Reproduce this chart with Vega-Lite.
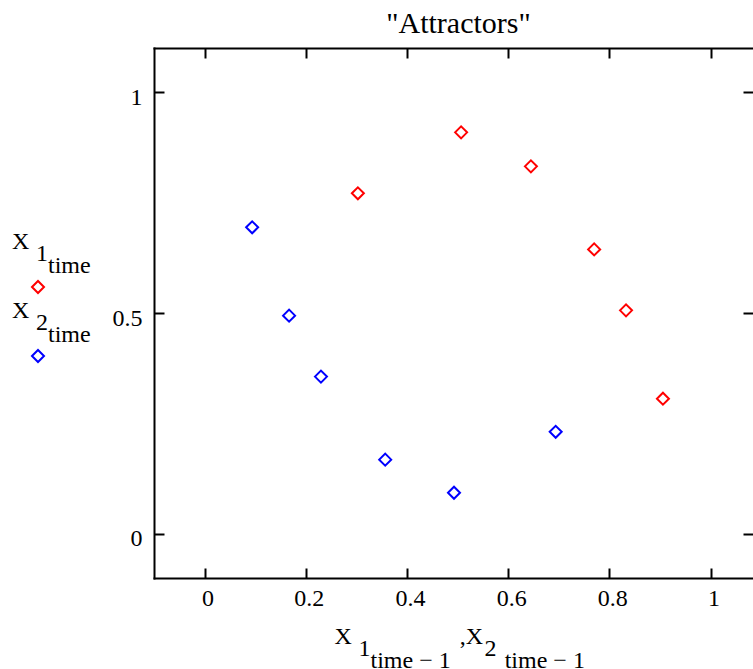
{
  "$schema": "https://vega.github.io/schema/vega-lite/v6.json",
  "width": 599,
  "height": 530,
  "autosize": {"type": "none"},
  "padding": {"left": 154, "top": 48, "right": 0, "bottom": 91},
  "background": "white",
  "config": {"view": {"stroke": null}, "font": "Liberation Serif", "style": {"guide-label": {"lineHeight": 12, "dy": -33}}},
  "title": {
    "text": "\"Attractors\"",
    "font": "Liberation Serif",
    "fontSize": 30,
    "fontWeight": "normal",
    "color": "black",
    "anchor": "middle",
    "baseline": "alphabetic",
    "offset": -16,
    "dx": 5
  },
  "data": {
    "values": [
      {"x": 0.303, "y": 0.771, "series": "X1"},
      {"x": 0.507, "y": 0.909, "series": "X1"},
      {"x": 0.645, "y": 0.832, "series": "X1"},
      {"x": 0.770, "y": 0.644, "series": "X1"},
      {"x": 0.833, "y": 0.506, "series": "X1"},
      {"x": 0.906, "y": 0.306, "series": "X1"},
      {"x": 0.094, "y": 0.694, "series": "X2"},
      {"x": 0.167, "y": 0.494, "series": "X2"},
      {"x": 0.230, "y": 0.356, "series": "X2"},
      {"x": 0.357, "y": 0.168, "series": "X2"},
      {"x": 0.493, "y": 0.093, "series": "X2"},
      {"x": 0.694, "y": 0.231, "series": "X2"}
    ]
  },
  "layer": [
    {
      "mark": {"type": "point", "shape": "diamond", "filled": false, "size": 144, "strokeWidth": 2, "opacity": 1},
      "encoding": {
        "x": {
          "field": "x", "type": "quantitative",
          "scale": {"domain": [-0.1, 1.084], "nice": false, "zero": false},
          "axis": {
            "orient": "bottom", "values": [0, 0.2, 0.4, 0.6, 0.8, 1], "format": "~g",
            "grid": false, "domain": true, "domainColor": "black", "domainWidth": 2, "domainCap": "square",
            "ticks": true, "tickSize": -10, "tickWidth": 2, "tickColor": "black",
            "labelFont": "Liberation Serif", "labelFontSize": 24, "labelColor": "black",
            "labelPadding": 70, "labelBaseline": "alphabetic", "labelOffset": 3,
            "labelFlush": false, "labelOverlap": false, "labelBound": false,
            "title": [
              "\u200bX\u00a0\u00a0\u00a0\u00a0\u00a0\u00a0\u00a0\u00a0\u00a0\u00a0\u00a0\u00a0\u00a0\u00a0\u00a0\u00a0\u00a0\u00a0,X",
              "\u200b\u00a0\u00a0\u00a0\u00a01\u00a0\u00a0\u00a0\u00a0\u00a0\u00a0\u00a0\u00a0\u00a0\u00a0\u00a0\u00a0\u00a0\u00a0\u00a0\u00a0\u00a0\u00a0\u00a02",
              "\u200b\u00a0\u00a0\u00a0\u00a0\u00a0\u00a0time \u2212 1\u00a0\u00a0\u00a0\u00a0\u00a0\u00a0\u00a0\u00a0\u00a0time \u2212 1"
            ],
            "titleFont": "Liberation Serif", "titleFontSize": 24, "titleFontWeight": "normal", "titleColor": "black",
            "titleAlign": "left", "titleX": 180, "titleY": 65, "titleBaseline": "alphabetic", "titleLineHeight": 12
          }
        },
        "y": {
          "field": "y", "type": "quantitative",
          "scale": {"domain": [-0.1, 1.1], "nice": false, "zero": false},
          "axis": {
            "orient": "left", "values": [0, 0.5, 1], "format": "~g",
            "grid": false, "domain": true, "domainColor": "black", "domainWidth": 2, "domainCap": "square",
            "ticks": true, "tickSize": -10, "tickWidth": 2, "tickColor": "black",
            "labelFont": "Liberation Serif", "labelFontSize": 24, "labelColor": "black",
            "labelPadding": 22, "labelBaseline": "alphabetic", "labelOffset": 45, "labelAlign": "right",
            "labelFlush": false, "labelOverlap": false, "labelBound": false,
            "title": null
          }
        },
        "color": {
          "field": "series", "type": "nominal",
          "scale": {"domain": ["X1", "X2"], "range": ["#ff0000", "#0000ff"]},
          "legend": {
            "orient": "none", "legendX": -128, "legendY": 227, "title": null, "direction": "vertical",
            "symbolSize": 144, "symbolStrokeWidth": 2, "symbolType": "diamond",
            "labelFont": "Liberation Serif", "labelFontSize": 24, "labelColor": "black",
            "labelBaseline": "bottom", "labelOffset": -38, "labelLimit": 0, "rowPadding": 2,
            "labelExpr": "datum.label == 'X1' ? ['\u200bX', '\u200b\u00a0\u00a0\u00a0\u00a01', '\u200b\u00a0\u00a0\u00a0\u00a0\u00a0\u00a0time'] : ['\u200bX', '\u200b\u00a0\u00a0\u00a0\u00a02', '\u200b\u00a0\u00a0\u00a0\u00a0\u00a0\u00a0time']"
          }
        }
      }
    },
    {
      "mark": {"type": "point", "opacity": 0},
      "encoding": {
        "x": {
          "field": "x", "type": "quantitative",
          "scale": {"domain": [-0.1, 1.084], "nice": false, "zero": false},
          "axis": {
            "orient": "top", "values": [0, 0.2, 0.4, 0.6, 0.8, 1], "labels": false,
            "grid": false, "domain": true, "domainColor": "black", "domainWidth": 2, "domainCap": "square",
            "ticks": true, "tickSize": -10, "tickWidth": 2, "tickColor": "black", "title": null
          }
        },
        "y": {
          "field": "y", "type": "quantitative",
          "scale": {"domain": [-0.1, 1.1], "nice": false, "zero": false},
          "axis": {
            "orient": "right", "values": [0, 0.5, 1], "labels": false,
            "grid": false, "domain": false,
            "ticks": true, "tickSize": -10, "tickWidth": 2, "tickColor": "black", "title": null
          }
        }
      }
    }
  ],
  "resolve": {"axis": {"x": "independent", "y": "independent"}}
}
